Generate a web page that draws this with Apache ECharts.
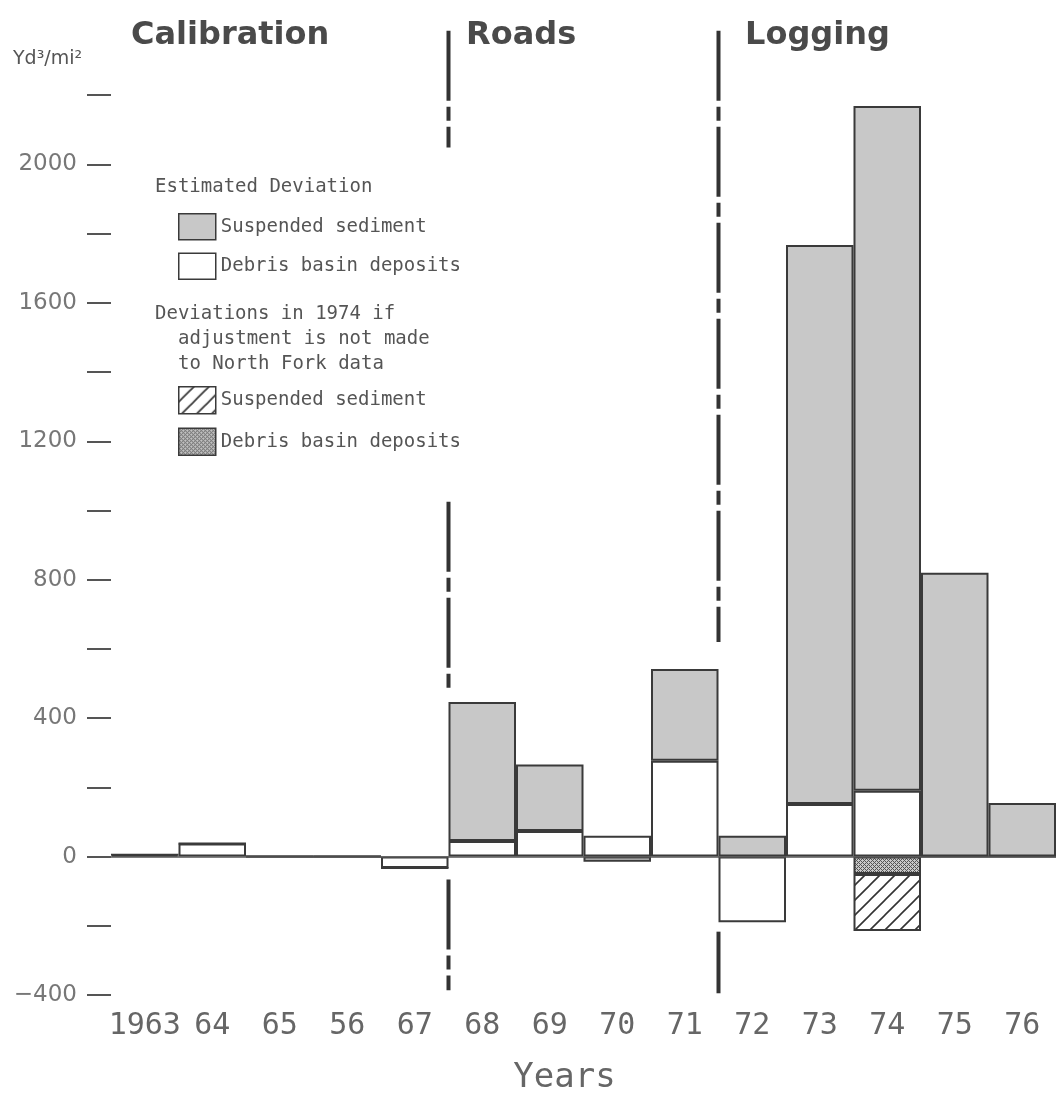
<!DOCTYPE html>
<html>
<head>
<meta charset="utf-8">
<script src="https://cdn.jsdelivr.net/npm/echarts@6/dist/echarts.min.js"></script>
<style>
html,body{margin:0;padding:0;background:#fff;}
#chart{width:1056px;height:1102px;}
</style>
</head>
<body>
<div id="chart"></div>
<script>
// ---------- data ----------
var years = ['1963','64','65','56','67','68','69','70','71','72','73','74','75','76'];
var debrisBasin = [5, 38, 0, 0, -33, 45, 74, 60, 277, -190, 152, 190, 0, 0];
var suspendedSediment = [0, 0, 0, 0, 0, 402, 192, -15, 265, 60, 1615, 1979, 820, 155];
var debrisUnadjusted1974 = [null, null, null, null, null, null, null, null, null, null, null, -50, null, null];
var suspendedUnadjusted1974 = [null, null, null, null, null, null, null, null, null, null, null, -165, null, null];
var yTickValues = [-400,-200,0,200,400,600,800,1000,1200,1400,1600,1800,2000,2200];
var yLabelValues = [-400,0,400,800,1200,1600,2000];
// period boundaries (first year of period) and visible segments of the divider lines (in y units)
var roadsStart = '68';
var loggingStart = '72';
var roadsSegments = [[2386, 2049], [1025, 485], [-66, -386]];
var loggingSegments = [[2386, 620], [-217, -395]];

// ---------- patterns ----------
function hatchPattern() {
  var c = document.createElement('canvas');
  c.width = 15; c.height = 15;
  var g = c.getContext('2d');
  g.fillStyle = '#fff'; g.fillRect(0, 0, 15, 15);
  g.strokeStyle = '#333'; g.lineWidth = 1.6;
  g.beginPath();
  g.moveTo(0, 15); g.lineTo(15, 0);
  g.moveTo(-2, 2); g.lineTo(2, -2);
  g.moveTo(13, 17); g.lineTo(17, 13);
  g.stroke();
  return c;
}
function crossPattern() {
  var c = document.createElement('canvas');
  c.width = 4; c.height = 4;
  var g = c.getContext('2d');
  g.fillStyle = '#c8c8c8'; g.fillRect(0, 0, 4, 4);
  g.fillStyle = '#555';
  g.fillRect(0, 0, 1, 1); g.fillRect(2, 2, 1, 1);
  g.fillRect(1, 1, 1, 1); g.fillRect(3, 3, 1, 1);
  g.fillRect(3, 1, 1, 1); g.fillRect(1, 3, 1, 1);
  return c;
}

var border = '#3a3a3a';
var mono = '"DejaVu Sans Mono", monospace';
var legendFont = { fontFamily: mono, fontSize: 19, color: '#555' };
var titleFont = { fontFamily: '"DejaVu Sans"', fontWeight: 'bold', fontSize: 32, color: '#4a4a4a' };

var NAME_SS = 'Suspended sediment';
var NAME_DB = 'Debris basin deposits';
var NAME_SS2 = 'Suspended sediment (1974, unadjusted)';
var NAME_DB2 = 'Debris basin deposits (1974, unadjusted)';

function dividerSeries(cat, segs) {
  var x = years.indexOf(cat);
  return segs.map(function (s) {
    return {
      type: 'line', xAxisIndex: 1, yAxisIndex: 0, silent: true,
      symbol: 'none', z: 5,
      lineStyle: { color: '#333', width: 4, type: [70, 6, 14, 6] },
      data: [[x, s[0]], [x, s[1]]]
    };
  });
}

var chart = echarts.init(document.getElementById('chart'));
var option = {
  animation: false,
  backgroundColor: '#fff',
  title: [
    { text: 'Calibration', left: 126, top: 15, textStyle: titleFont },
    { text: 'Roads', left: 461, top: 15, textStyle: titleFont },
    { text: 'Logging', left: 740, top: 15, textStyle: titleFont }
  ],
  graphic: [
    { type: 'text', left: 13, top: 50, style: { text: 'Yd³/mi²', font: '19px "DejaVu Sans"', fill: '#555' } },
    { type: 'text', left: 155, top: 178, style: { text: 'Estimated Deviation', font: '19px ' + mono, fill: '#555' } },
    { type: 'text', left: 155, top: 305, style: { text: 'Deviations in 1974 if', font: '19px ' + mono, fill: '#555' } },
    { type: 'text', left: 178, top: 330, style: { text: 'adjustment is not made', font: '19px ' + mono, fill: '#555' } },
    { type: 'text', left: 178, top: 355, style: { text: 'to North Fork data', font: '19px ' + mono, fill: '#555' } }
  ],
  legend: [
    {
      orient: 'vertical', left: 178, top: 213, padding: 0,
      itemWidth: 37, itemHeight: 26, itemGap: 12, icon: 'rect',
      data: [NAME_SS, NAME_DB], textStyle: legendFont,
      itemStyle: { borderColor: border, borderWidth: 1.5 }
    },
    {
      orient: 'vertical', left: 178, top: 386, padding: 0,
      itemWidth: 37, itemHeight: 27, itemGap: 13, icon: 'rect',
      data: [NAME_SS2, NAME_DB2], textStyle: legendFont,
      itemStyle: { borderColor: border, borderWidth: 1.5 },
      formatter: function (n) { return n === NAME_SS2 ? NAME_SS : NAME_DB; }
    }
  ],
  grid: { left: 111, right: 0, top: 26, bottom: 107, containLabel: false },
  xAxis: [
    {
      type: 'category', data: years,
      axisLine: { show: false }, axisTick: { show: false },
      axisLabel: { interval: 0, hideOverlap: false, fontFamily: mono, fontSize: 30, color: '#666', margin: 16 },
      name: 'Years', nameLocation: 'middle', nameGap: 66,
      nameTextStyle: { fontFamily: mono, fontSize: 34, color: '#666', padding: [0, 38, 0, 0] }
    },
    { type: 'value', min: 0, max: years.length, show: false }
  ],
  yAxis: {
    type: 'value', min: -400, max: 2400, offset: 3,
    splitLine: { show: false },
    axisLine: { show: false },
    axisTick: { show: true, length: 24, customValues: yTickValues, lineStyle: { color: '#555', width: 2 } },
    axisLabel: { customValues: yLabelValues, margin: 31, fontFamily: '"DejaVu Sans"', fontSize: 23, color: '#777',
      formatter: function (v) { return v < 0 ? '\u2212' + Math.abs(v) : String(v); } }
  },
  series: [
    {
      name: NAME_DB, type: 'bar', stack: 'dev', barCategoryGap: '0%', data: debrisBasin,
      itemStyle: { color: '#fff', borderColor: border, borderWidth: 2 },
      markLine: { silent: true, symbol: 'none', label: { show: false },
        lineStyle: { color: '#555', width: 1.5, type: 'solid' }, data: [{ yAxis: 0 }] }
    },
    {
      name: NAME_SS, type: 'bar', stack: 'dev', barCategoryGap: '0%', data: suspendedSediment,
      itemStyle: { color: '#c8c8c8', borderColor: border, borderWidth: 2 }
    },
    {
      name: NAME_DB2, type: 'bar', stack: 'dev', barCategoryGap: '0%', data: debrisUnadjusted1974,
      itemStyle: { color: { image: crossPattern(), repeat: 'repeat' }, borderColor: border, borderWidth: 2 }
    },
    {
      name: NAME_SS2, type: 'bar', stack: 'dev', barCategoryGap: '0%', data: suspendedUnadjusted1974,
      itemStyle: { color: { image: hatchPattern(), repeat: 'repeat' }, borderColor: border, borderWidth: 2 }
    }
  ].concat(dividerSeries(roadsStart, roadsSegments)).concat(dividerSeries(loggingStart, loggingSegments))
};
chart.setOption(option);
</script>
</body>
</html>
